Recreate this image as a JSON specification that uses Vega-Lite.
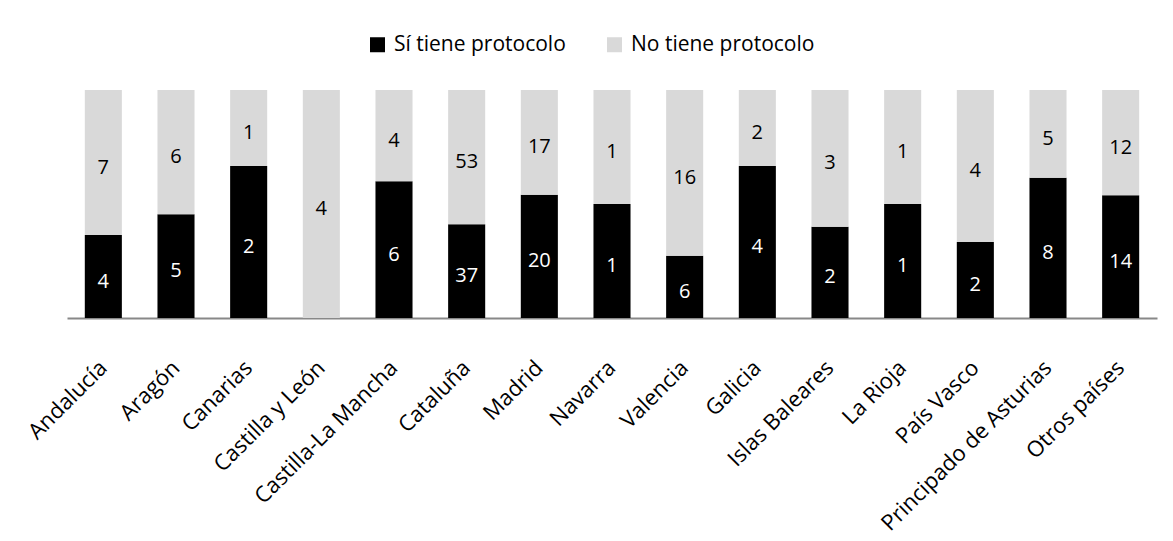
{
  "$schema": "https://vega.github.io/schema/vega-lite/v6.json",
  "width": 1090,
  "height": 228,
  "autosize": {"type": "none"},
  "padding": {"left": 67, "top": 90, "right": 16, "bottom": 223},
  "background": "white",
  "config": {"view": {"stroke": null}, "font": "Open Sans"},
  "data": {
    "values": [
      {"region": "Andalucía", "tipo": "Sí tiene protocolo", "orden": 1, "n": 4},
      {"region": "Andalucía", "tipo": "No tiene protocolo", "orden": 2, "n": 7},
      {"region": "Aragón", "tipo": "Sí tiene protocolo", "orden": 1, "n": 5},
      {"region": "Aragón", "tipo": "No tiene protocolo", "orden": 2, "n": 6},
      {"region": "Canarias", "tipo": "Sí tiene protocolo", "orden": 1, "n": 2},
      {"region": "Canarias", "tipo": "No tiene protocolo", "orden": 2, "n": 1},
      {"region": "Castilla y León", "tipo": "No tiene protocolo", "orden": 2, "n": 4},
      {"region": "Castilla-La Mancha", "tipo": "Sí tiene protocolo", "orden": 1, "n": 6},
      {"region": "Castilla-La Mancha", "tipo": "No tiene protocolo", "orden": 2, "n": 4},
      {"region": "Cataluña", "tipo": "Sí tiene protocolo", "orden": 1, "n": 37},
      {"region": "Cataluña", "tipo": "No tiene protocolo", "orden": 2, "n": 53},
      {"region": "Madrid", "tipo": "Sí tiene protocolo", "orden": 1, "n": 20},
      {"region": "Madrid", "tipo": "No tiene protocolo", "orden": 2, "n": 17},
      {"region": "Navarra", "tipo": "Sí tiene protocolo", "orden": 1, "n": 1},
      {"region": "Navarra", "tipo": "No tiene protocolo", "orden": 2, "n": 1},
      {"region": "Valencia", "tipo": "Sí tiene protocolo", "orden": 1, "n": 6},
      {"region": "Valencia", "tipo": "No tiene protocolo", "orden": 2, "n": 16},
      {"region": "Galicia", "tipo": "Sí tiene protocolo", "orden": 1, "n": 4},
      {"region": "Galicia", "tipo": "No tiene protocolo", "orden": 2, "n": 2},
      {"region": "Islas Baleares", "tipo": "Sí tiene protocolo", "orden": 1, "n": 2},
      {"region": "Islas Baleares", "tipo": "No tiene protocolo", "orden": 2, "n": 3},
      {"region": "La Rioja", "tipo": "Sí tiene protocolo", "orden": 1, "n": 1},
      {"region": "La Rioja", "tipo": "No tiene protocolo", "orden": 2, "n": 1},
      {"region": "País Vasco", "tipo": "Sí tiene protocolo", "orden": 1, "n": 2},
      {"region": "País Vasco", "tipo": "No tiene protocolo", "orden": 2, "n": 4},
      {"region": "Principado de Asturias", "tipo": "Sí tiene protocolo", "orden": 1, "n": 8},
      {"region": "Principado de Asturias", "tipo": "No tiene protocolo", "orden": 2, "n": 5},
      {"region": "Otros países", "tipo": "Sí tiene protocolo", "orden": 1, "n": 14},
      {"region": "Otros países", "tipo": "No tiene protocolo", "orden": 2, "n": 12}
    ]
  },
  "transform": [
    {"stack": "n", "groupby": ["region"], "sort": [{"field": "orden", "order": "ascending"}], "offset": "normalize", "as": ["y0", "y1"]}
  ],
  "layer": [
    {
      "mark": {"type": "bar"},
      "encoding": {
        "x": {
          "field": "region", "type": "nominal", "sort": null,
          "scale": {"paddingInner": 0.49, "paddingOuter": 0.245},
          "axis": {
            "title": null, "labelAngle": -45, "labelAlign": "right", "labelBaseline": "middle",
            "labelFontSize": 22, "labelColor": "#000000", "labelPadding": 46, "ticks": false,
            "domainColor": "#888888", "domainWidth": 2, "labelFont": "Open Sans", "labelOverlap": false,
            "labelLimit": 0
          }
        },
        "y": {"field": "y0", "type": "quantitative", "scale": {"domain": [0, 1]}, "axis": null},
        "y2": {"field": "y1"},
        "color": {
          "field": "tipo", "type": "nominal",
          "scale": {"domain": ["Sí tiene protocolo", "No tiene protocolo"], "range": ["#000000", "#d9d9d9"]},
          "legend": {
            "title": null, "orient": "none", "legendX": 300, "legendY": -56, "direction": "horizontal",
            "symbolType": "square", "symbolSize": 225, "symbolStrokeWidth": 0,
            "labelFontSize": 21, "labelFont": "Open Sans", "labelColor": "#000000",
            "columnPadding": 38, "labelOffset": 6, "padding": 0, "labelLimit": 0
          }
        }
      }
    },
    {
      "transform": [{"calculate": "(datum.y0 + datum.y1) / 2", "as": "ymid"}],
      "mark": {"type": "text", "fontSize": 20, "baseline": "middle", "dy": 5, "font": "Open Sans"},
      "encoding": {
        "x": {"field": "region", "type": "nominal", "sort": null},
        "y": {"field": "ymid", "type": "quantitative"},
        "text": {"field": "n", "type": "quantitative"},
        "color": {"condition": {"test": "datum.tipo === 'Sí tiene protocolo'", "value": "#ffffff"}, "value": "#000000"}
      }
    }
  ]
}
